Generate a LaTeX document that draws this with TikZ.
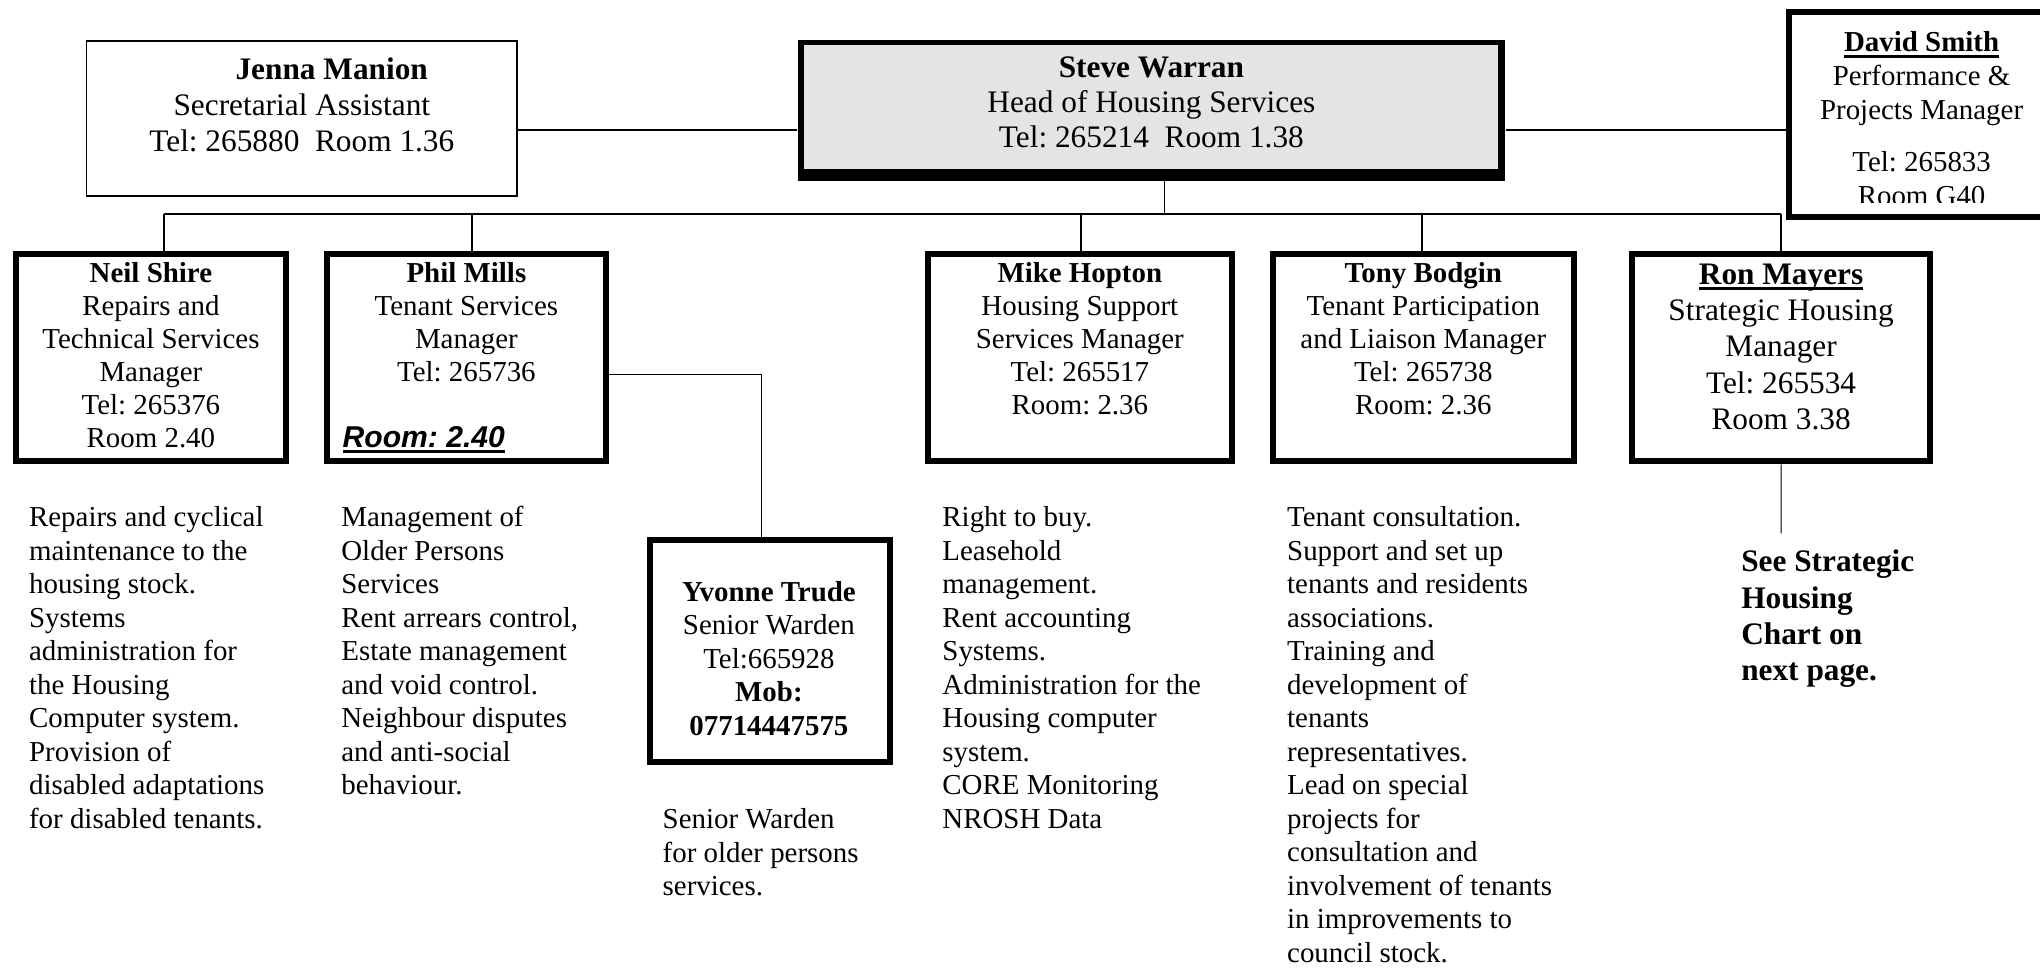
\documentclass[tikz,border=0pt]{standalone}
\usepackage{fontspec}
\setmainfont{Liberation Serif}
\newfontfamily\arialfont{Liberation Sans}
\usetikzlibrary{fit}
\definecolor{sgrey}{HTML}{E4E4E4}
\newcommand\ulb[2][1.1pt]{\setbox0\hbox{#2}\rlap{\rule[-2.4pt]{\wd0}{#1}}\box0}
\frenchspacing
\begin{document}
\begin{tikzpicture}[x=0.54pt,y=-0.54pt,
  tbox/.style={draw, line width=2.5pt, inner sep=0pt},
  thinbox/.style={draw, line width=0.7pt, inner sep=0pt},
  conn/.style={line width=0.75pt},
  thinconn/.style={line width=0.45pt},
  lbl/.style={inner sep=0pt, anchor=base, align=center, font=\fontsize{12}{13.7}\selectfont\frenchspacing},
  lblb/.style={lbl, font=\fontsize{13}{14.8}\selectfont\frenchspacing},
  desc/.style={inner sep=0pt, anchor=base west, align=left, font=\fontsize{12}{13.9}\selectfont\frenchspacing}]

\clip (0,0) rectangle (1568,746);
\fill[white] (0,0) rectangle (1568,746);

% ---- top row ----
\node[thinbox, fit={(66.6,31.6)(397.4,150.4)}] (jenna) {};
\node[fill=black, inner sep=0pt, fit={(613,31)(1157,139)}] (steve) {};
\node[fill=sgrey, inner sep=0pt, fit={(617.6,34.8)(1151.6,129.8)}] (steveinner) {};
\node[tbox, fit={(1375.3,9.3)(1583,166.7)}] (david) {};

% (text nodes are anchored at the baseline of their last line)
\node[lblb] (jennat) at (232,116.3) {\hspace*{24.8pt}\textbf{Jenna Manion}\\Secretarial Assistant\\Tel: 265880~~Room 1.36};
\node[lblb, font=\fontsize{13}{14.6}\selectfont\frenchspacing] (stevet) at (885,113.5) {\textbf{Steve Warran}\\Head of Housing Services\\Tel: 265214~~Room 1.38};
\begin{scope}
  \clip (1378,11) rectangle (1580,155.5);
  \node[lbl, font=\fontsize{12}{14}\selectfont\frenchspacing] (davidt) at (1477,157.9) {\ulb{\textbf{David Smith}}\\Performance \&\\Projects Manager\\[7.7pt]Tel: 265833\\Room G40};
\end{scope}

% ---- second row boxes ----
\node[tbox, fit={(12.3,195.3)(219.7,354.7)}] (neil) {};
\node[tbox, fit={(251.3,195.3)(465.7,354.7)}] (phil) {};
\node[tbox, fit={(713.3,195.3)(946.7,354.7)}] (mike) {};
\node[tbox, fit={(978.3,195.3)(1209.7,354.7)}] (tony) {};
\node[tbox, fit={(1254.3,195.3)(1483.7,354.7)}] (ron) {};
\node[tbox, fit={(499.3,415.3)(683.7,585.7)}] (yvonne) {};

\node[lbl] (neilt) at (116,343.9) {\textbf{Neil Shire}\\Repairs and\\Technical Services\\Manager\\Tel: 265376\\Room 2.40};
\node[lbl] (philt) at (358.5,293.1) {\textbf{Phil Mills}\\Tenant Services\\Manager\\Tel: 265736};
\node[inner sep=0pt, anchor=base west, font=\arialfont\fontsize{12.5}{14}\selectfont] (philroom) at (263,344) {\ulb[1.3pt]{\textbf{\textit{Room: 2.40}}}};
\node[lbl] (miket) at (830,318.5) {\textbf{Mike Hopton}\\Housing Support\\Services Manager\\Tel: 265517\\Room: 2.36};
\node[lbl] (tonyt) at (1094,318.5) {\textbf{Tony Bodgin}\\Tenant Participation\\and Liaison Manager\\Tel: 265738\\Room: 2.36};
\node[lbl, font=\fontsize{13}{15.1}\selectfont\frenchspacing] (ront) at (1369,330.3) {\ulb[1.2pt]{\textbf{Ron Mayers}}\\Strategic Housing\\Manager\\Tel: 265534\\Room 3.38};
\node[lbl, font=\fontsize{12}{13.9}\selectfont\frenchspacing] (yvonnet) at (591,565) {\textbf{Yvonne Trude}\\Senior Warden\\Tel:665928\\\textbf{Mob:}\\\textbf{07714447575}};

% ---- connectors ----
\coordinate (yc) at (0,100);
\draw[conn] (jenna.east |- yc) -- (steve.west |- yc);
\draw[conn] (steve.east |- yc) -- (david.west |- yc);

\coordinate (bn) at (126,164.5);
\coordinate (bp) at (363,164.5);
\coordinate (bs) at (895,164.5);
\coordinate (bm) at (831,164.5);
\coordinate (bt) at (1093,164.5);
\coordinate (br) at (1369,164.5);
\draw[conn] (bn) -- (br);
\draw[conn] (bs |- steve.south) -- (bs);
\draw[conn] (bn) -- (bn |- neil.north);
\draw[conn] (bp) -- (bp |- phil.north);
\draw[conn] (bm) -- (bm |- mike.north);
\draw[conn] (bt) -- (bt |- tony.north);
\draw[conn] (br) -- (br |- ron.north);

\coordinate (py) at (585,288);
\draw[thinconn] (phil.east |- py) -- (py) -- (py |- yvonne.north);

\coordinate (ronend) at (1369,410);
\draw[thinconn] (ron.south) -- (ronend);

% ---- descriptions ----
\node[desc] (neild) at (22,636.7) {Repairs and cyclical\\maintenance to the\\housing stock.\\Systems\\administration for\\the Housing\\Computer system.\\Provision of\\disabled adaptations\\for disabled tenants.};
\node[desc] (phild) at (262,610.9) {Management of\\Older Persons\\Services\\Rent arrears control,\\Estate management\\and void control.\\Neighbour disputes\\and anti-social\\behaviour.};
\node[desc] (yvonned) at (509,688.5) {Senior Warden\\for older persons\\services.};
\node[desc] (miked) at (724,636.7) {Right to buy.\\Leasehold\\management.\\Rent accounting\\Systems.\\Administration for the\\Housing computer\\system.\\CORE Monitoring\\NROSH Data};
\node[desc] (tonyd) at (989,739.6) {Tenant consultation.\\Support and set up\\tenants and residents\\associations.\\Training and\\development of\\tenants\\representatives.\\Lead on special\\projects for\\consultation and\\involvement of tenants\\in improvements to\\council stock.};
\node[desc, font=\bfseries\fontsize{13}{15.1}\selectfont\frenchspacing] (seenote) at (1338,523.4) {See Strategic\\Housing\\Chart on\\next page.};

\end{tikzpicture}
\end{document}
